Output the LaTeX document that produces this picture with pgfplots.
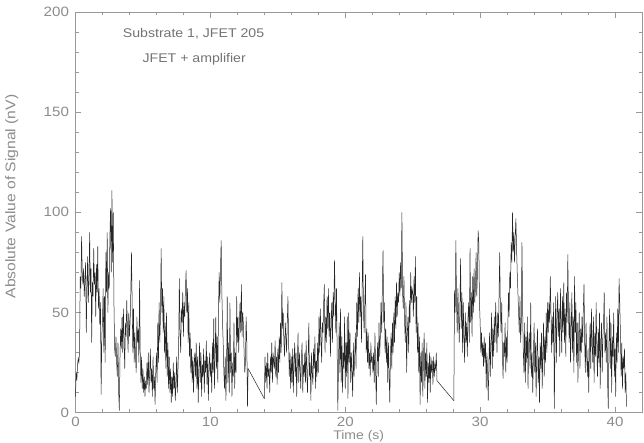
\documentclass[border=0pt]{standalone}
\usepackage{fontspec}
\setmainfont{Liberation Sans}[FakeStretch=1.12]
\usepackage{pgfplots}
\pgfplotsset{compat=1.18}
\usepackage{pgfplotstable}

\pgfplotstableread[row sep=\\]{
y\\
8\\20\\16\\24\\27\\25\\30\\68\\62\\88\\70\\64\\72\\58\\66\\75\\40\\62\\78\\55\\
68\\90\\60\\72\\35\\65\\58\\82\\64\\70\\48\\74\\60\\83\\52\\62\\44\\55\\9\\38\\
45\\62\\30\\58\\25\\80\\60\\90\\50\\70\\62\\88\\102\\70\\111\\75\\100\\55\\32\\28\\
38\\25\\18\\35\\10\\1\\28\\42\\32\\48\\30\\52\\36\\22\\45\\38\\56\\42\\30\\50\\
38\\45\\60\\80\\55\\30\\52\\25\\40\\28\\20\\48\\35\\42\\25\\66\\30\\15\\28\\12\\
22\\10\\18\\8\\16\\12\\25\\14\\30\\10\\20\\32\\15\\22\\8\\28\\12\\18\\4\\20\\
30\\15\\45\\25\\55\\35\\48\\82\\50\\62\\40\\58\\30\\45\\22\\50\\18\\35\\12\\28\\
10\\22\\5\\18\\8\\25\\12\\20\\6\\15\\28\\10\\22\\35\\67\\40\\30\\52\\45\\60\\
38\\55\\48\\62\\71\\50\\62\\35\\55\\28\\40\\20\\32\\15\\28\\10\\25\\30\\18\\35\\
12\\28\\5\\22\\35\\15\\30\\8\\24\\18\\32\\10\\26\\20\\36\\14\\28\\6\\22\\30\\
18\\25\\10\\35\\20\\47\\12\\28\\48\\22\\38\\15\\50\\70\\55\\72\\86\\60\\45\\35\\
20\\12\\28\\6\\22\\58\\15\\35\\10\\55\\20\\30\\8\\25\\18\\45\\12\\30\\20\\58\\
35\\48\\30\\45\\55\\40\\64\\38\\50\\44\\30\\20\\25\\48\\35\\3\\22\\
}\segA

\pgfplotstableread[row sep=\\]{
y\\
7\\28\\15\\25\\12\\30\\18\\22\\10\\28\\20\\35\\15\\30\\25\\22\\36\\18\\28\\14\\
32\\20\\38\\25\\45\\30\\65\\42\\50\\35\\28\\45\\38\\30\\45\\58\\35\\18\\30\\12\\
28\\15\\32\\10\\25\\35\\18\\30\\8\\26\\40\\15\\30\\22\\12\\28\\35\\10\\24\\18\\
30\\15\\36\\20\\10\\28\\45\\18\\25\\6\\30\\20\\14\\32\\22\\38\\12\\26\\18\\35\\
20\\48\\30\\52\\38\\25\\45\\40\\55\\64\\30\\48\\35\\58\\42\\62\\38\\50\\28\\45\\
55\\35\\60\\48\\76\\58\\40\\62\\30\\1\\25\\45\\20\\52\\15\\38\\10\\30\\22\\48\\
12\\35\\18\\48\\7\\50\\25\\40\\15\\30\\20\\8\\35\\18\\28\\40\\22\\55\\38\\62\\
45\\70\\48\\58\\35\\60\\88\\50\\40\\55\\69\\30\\42\\25\\40\\22\\30\\18\\35\\25\\
28\\20\\30\\15\\40\\22\\4\\25\\35\\18\\45\\28\\38\\55\\40\\62\\81\\45\\55\\30\\
42\\25\\38\\15\\35\\20\\5\\28\\40\\22\\45\\30\\50\\35\\58\\42\\65\\48\\60\\55\\
70\\58\\75\\62\\100\\60\\52\\68\\45\\35\\55\\20\\40\\48\\30\\56\\45\\70\\55\\62\\
60\\48\\68\\55\\78\\40\\58\\30\\45\\20\\38\\4\\30\\15\\35\\8\\28\\40\\12\\30\\
18\\35\\5\\25\\15\\30\\10\\28\\20\\26\\14\\28\\18\\24\\22\\30\\16\\
}\segB

\pgfplotstableread[row sep=\\]{
y\\
6\\61\\50\\86\\55\\40\\62\\48\\35\\52\\77\\42\\60\\30\\55\\38\\25\\50\\35\\45\\
28\\48\\55\\35\\82\\45\\60\\38\\68\\50\\72\\55\\62\\80\\58\\70\\91\\85\\55\\45\\
30\\40\\28\\35\\23\\38\\25\\35\\12\\30\\20\\6\\25\\40\\18\\35\\50\\22\\42\\28\\
48\\35\\55\\42\\30\\50\\38\\58\\80\\52\\40\\55\\30\\17\\35\\28\\45\\20\\38\\25\\
42\\60\\48\\70\\62\\85\\75\\100\\80\\90\\75\\88\\97\\82\\70\\60\\50\\40\\58\\35\\
45\\85\\52\\30\\20\\45\\15\\38\\25\\48\\12\\35\\40\\22\\55\\18\\30\\10\\28\\45\\
20\\35\\8\\30\\42\\15\\28\\5\\35\\22\\40\\12\\30\\45\\18\\38\\25\\50\\30\\55\\
40\\55\\45\\68\\50\\30\\48\\35\\55\\2\\35\\58\\25\\48\\60\\38\\52\\28\\62\\45\\
30\\58\\40\\65\\35\\52\\28\\60\\45\\79\\50\\35\\55\\25\\42\\60\\30\\48\\20\\68\\
40\\55\\25\\45\\15\\38\\50\\22\\42\\30\\48\\35\\52\\64\\35\\20\\45\\28\\18\\32\\
10\\30\\45\\22\\52\\35\\25\\48\\15\\40\\28\\55\\32\\18\\42\\25\\50\\12\\35\\45\\
20\\38\\45\\60\\30\\40\\25\\48\\15\\2\\35\\52\\22\\45\\10\\38\\28\\50\\18\\32\\
8\\40\\25\\52\\30\\67\\55\\40\\18\\35\\12\\28\\22\\32\\10\\20\\3\\
}\segC

\begin{document}
\begin{tikzpicture}
\useasboundingbox (-75.5pt,-30.3pt) rectangle (568.5pt,412.7pt);
\begin{axis}[
  scale only axis,
  width=566.5pt, height=400.7pt,
  xmin=0, xmax=42, ymin=0, ymax=200,
  xtick={0,10,20,30,40},
  ytick={0,50,100,150,200},
  minor x tick num=4,
  minor y tick num=4,
  tick align=inside,
  major tick length=6pt,
  minor tick length=3.5pt,
  axis line style={black!40, line width=0.6pt},
  every tick/.style={black!40, line width=0.6pt},
  tick label style={text=black!45, font=\fontsize{13.5}{15}\selectfont},
  /pgf/number format/assume math mode=true,
  xticklabel style={yshift=-1pt},
  yticklabel style={xshift=-3pt},
  clip=false,
]
\addplot[black!85, line width=0.5pt] table[x expr=\coordindex*0.05, y=y] {\segA};
\addplot[black!85, line width=0.5pt] coordinates {(12.8,22) (14.0,7)};
\addplot[black!85, line width=0.5pt] table[x expr=14+\coordindex*0.05, y=y] {\segB};
\addplot[black!85, line width=0.5pt] coordinates {(26.8,16) (28.05,6)};
\addplot[black!85, line width=0.5pt] table[x expr=28.05+\coordindex*0.05, y=y] {\segC};
\node[text=black!55, font=\fontsize{12.6}{15}\selectfont] at (axis cs:8.75,189) {Substrate 1, JFET 205};
\node[text=black!55, font=\fontsize{12.6}{15}\selectfont] at (axis cs:8.8,176.3) {JFET + amplifier};
\node[rotate=90, text=black!45, font=\fontsize{14}{16}\selectfont] at (axis cs:-4.72,107.9) {Absolute Value of Signal (nV)};
\node[anchor=south, inner sep=0pt, text=black!45, font=\fontsize{12.5}{14}\selectfont] at (axis cs:21,-15) {Time (s)};
\end{axis}
\end{tikzpicture}
\end{document}
